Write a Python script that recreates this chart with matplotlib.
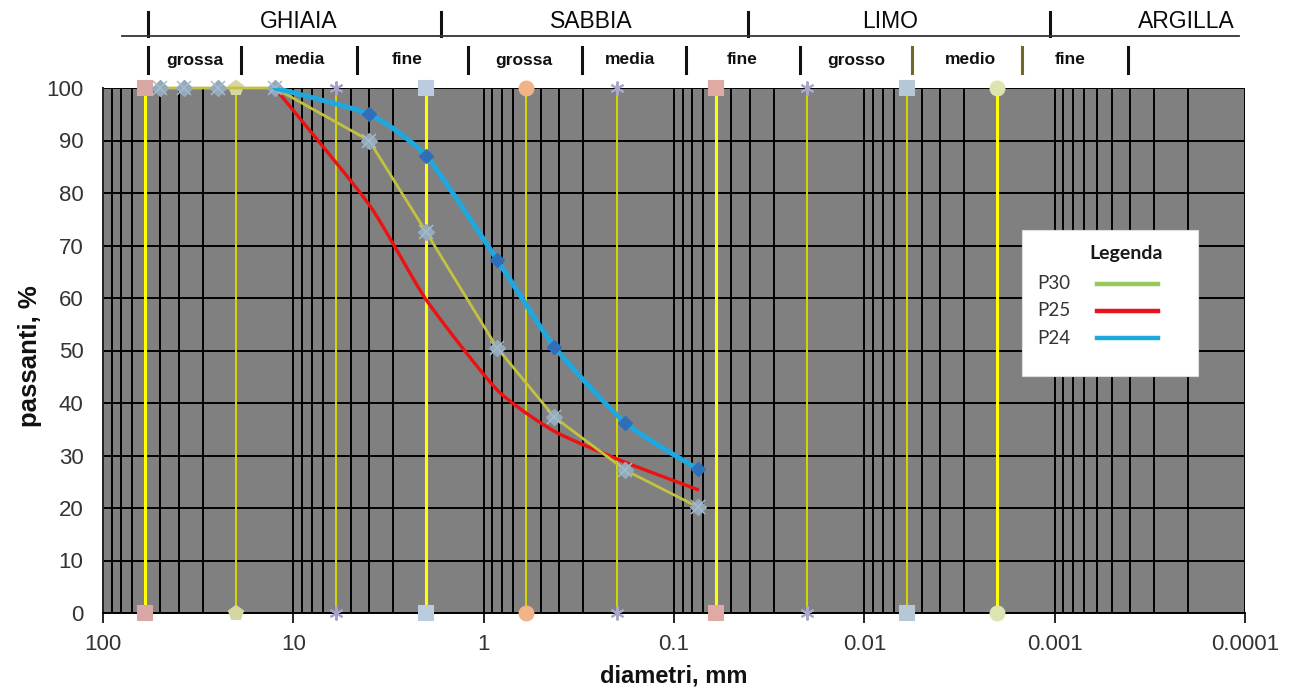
import numpy as np
import matplotlib
matplotlib.use("Agg")
import matplotlib.pyplot as plt
from matplotlib.lines import Line2D
from matplotlib.patches import Rectangle
from matplotlib.ticker import LogLocator, NullFormatter

plt.rcParams['font.family'] = ['Liberation Sans', 'DejaVu Sans']

# ---------------- data ----------------
p30_d = [50, 37.5, 25, 12.5, 4, 2, 0.85, 0.425, 0.18, 0.075]
p30_p = [100, 100, 100, 100, 90, 72.5, 50.5, 37.3, 27.2, 20.2]
p25_d = [12.5, 4, 2, 0.85, 0.425, 0.18, 0.075]
p25_p = [100, 77.8, 59.6, 42.5, 34.6, 28.7, 23.5]
p24_d = [12.5, 4, 2, 0.85, 0.425, 0.18, 0.075]
p24_p = [100, 95, 87, 67.3, 50.7, 36.2, 27.4]

# classification boundaries (mm)
bounds = [60, 20, 6, 2, 0.6, 0.2, 0.06, 0.02, 0.006, 0.002]
x_ticks = [100, 10, 1, 0.1, 0.01, 0.001, 0.0001]
x_ticklabels = ['100', '10', '1', '0.1', '0.01', '0.001', '0.0001']
y_ticks = [0, 10, 20, 30, 40, 50, 60, 70, 80, 90, 100]

top_labels = ['GHIAIA', 'SABBIA', 'LIMO', 'ARGILLA']
sub_labels = ['grossa', 'media', 'fine', 'grossa', 'media', 'fine',
              'grosso', 'medio', 'fine']
legend_names = ['P30', 'P25', 'P24']

# ---------------- helpers ----------------
W, H = 1304, 691


def fx(px):
    return px / W


def fy(py):
    return 1 - py / H


def smooth(xs, ys, n=24, k=0.6):
    """Hermite curve through the data points (in log-x space)."""
    pts = np.column_stack([np.log10(xs), ys])
    P = np.vstack([pts[0], pts, pts[-1]])
    out = []
    t = np.linspace(0, 1, n, endpoint=False)[:, None]
    h00 = 2 * t ** 3 - 3 * t ** 2 + 1
    h10 = t ** 3 - 2 * t ** 2 + t
    h01 = -2 * t ** 3 + 3 * t ** 2
    h11 = t ** 3 - t ** 2
    for i in range(1, len(P) - 2):
        p0, p1, p2, p3 = P[i - 1], P[i], P[i + 1], P[i + 2]
        m1 = k * (p2 - p0) / 2
        m2 = k * (p3 - p1) / 2
        out.append(h00 * p1 + h10 * m1 + h01 * p2 + h11 * m2)
    out.append(pts[-1][None])
    c = np.vstack(out)
    return 10 ** c[:, 0], c[:, 1]


# ---------------- figure ----------------
fig = plt.figure(figsize=(W / 100, H / 100), dpi=100)
fig.patch.set_facecolor('white')
ax = fig.add_axes([fx(103), 78 / H, 1142 / W, 525 / H])
ax.set_xscale('log')
ax.set_xlim(100, 0.0001)
ax.set_ylim(0, 100)
ax.set_facecolor('#808080')

ax.xaxis.set_minor_locator(LogLocator(base=10, subs=np.arange(2, 10)))
ax.xaxis.set_minor_formatter(NullFormatter())
ax.set_xticks(x_ticks)
ax.set_xticklabels(x_ticklabels)
ax.set_yticks(y_ticks)
ax.tick_params(axis='x', which='major', length=7, width=1.2, color='black',
               direction='out', labelsize=16, labelcolor='#333333', pad=8)
ax.tick_params(axis='x', which='minor', length=0)
ax.tick_params(axis='y', length=0, labelsize=16, labelcolor='#333333', pad=14)

ax.grid(True, axis='x', which='both', color='black', lw=1.4, zorder=1)
ax.grid(True, axis='y', which='major', color='black', lw=1.4, zorder=1)
ax.set_axisbelow(True)
for s in ['top', 'right']:
    ax.spines[s].set_visible(False)
ax.spines['left'].set_color('#222222')
ax.spines['bottom'].set_color('black')
ax.spines['left'].set_linewidth(1.4)
ax.spines['bottom'].set_linewidth(1.4)

# boundary lines with end markers
bstyle = [
    (2.2, 's', '#D8A8A4'),
    (1.2, 'p', '#D6D6A2'),
    (1.2, (6, 2, 0), '#A8A2C8'),
    (2.2, 's', '#BCCCE0'),
    (1.2, 'o', '#F0B488'),
    (1.2, (6, 2, 0), '#A8A8C8'),
    (2.2, 's', '#E0AAA4'),
    (1.2, (6, 2, 0), '#A8A8C8'),
    (1.2, 's', '#B4C8D8'),
    (2.2, 'o', '#DDE4B0'),
]
for b, (lw, mk, mc) in zip(bounds, bstyle):
    ax.plot([b, b], [0, 100], color='#FFFF00', lw=lw, zorder=3,
            marker=mk, markersize=10, markerfacecolor=mc,
            markeredgecolor=mc, markeredgewidth=1.5, clip_on=False)

# data series
xr, yr = smooth(p25_d, p25_p)
ax.plot(xr, yr, color='#EE1111', lw=2.4, zorder=4, solid_capstyle='round')

ax.plot(p30_d, p30_p, color='#C2C240', lw=2.0, zorder=5,
        marker='D', markersize=8, markerfacecolor='#93ABBA',
        markeredgecolor='#93ABBA', clip_on=False)
ax.plot(p30_d, p30_p, lw=0, zorder=5, marker='x', markersize=10,
        markeredgecolor='#A6BCCC', markeredgewidth=1.1, clip_on=False)

xb, yb = smooth(p24_d, p24_p)
ax.plot(xb, yb, color='#1EA8DF', lw=3.6, zorder=6, solid_capstyle='round')
ax.plot(p24_d[1:], p24_p[1:], lw=0, zorder=6, marker='D', markersize=7,
        markerfacecolor='#2F6EB8', markeredgecolor='#2F6EB8')

# axis labels
ax.set_xlabel('diametri, mm', fontsize=17, fontweight='bold', color='#111111')
ax.xaxis.set_label_coords(0.5, -(676 - 613) / 525)
ax.xaxis.label.set_va('center')
ax.set_ylabel('passanti, %', fontsize=18.5, fontweight='bold', color='#111111')
ax.yaxis.set_label_coords(-(103 - 30) / 1142, 0.49)
ax.yaxis.label.set_va('center')

# header (classification)
top_x = [299, 591, 890, 1186]
for t, x in zip(top_labels, top_x):
    fig.text(fx(x), fy(22), t, ha='center', va='center', fontsize=16.5,
             color='#0a0a0a')
for x in [148, 441, 748, 1050]:
    fig.add_artist(Line2D([fx(x), fx(x)], [fy(12), fy(36)], color='#111111',
                          lw=2.2, transform=fig.transFigure))
fig.add_artist(Line2D([fx(122), fx(1239)], [fy(36), fy(36)], color='#333333',
                      lw=1.3, transform=fig.transFigure))

sub_x = [195, 300, 407, 524, 630, 742, 856, 970, 1070]
for t, x in zip(sub_labels, sub_x):
    fig.text(fx(x), fy(60), t, ha='center', va='center', fontsize=12.5,
             fontweight='bold', color='#111111')
sub_bars = [148, 241, 357, 468, 582, 686, 800, 912, 1022, 1128]
for x in sub_bars:
    c = '#6E6A22' if x in (912, 1022) else '#111111'
    fig.add_artist(Line2D([fx(x), fx(x)], [fy(47), fy(73)], color=c,
                          lw=2.2, transform=fig.transFigure))

# legend box
fig.add_artist(Rectangle((fx(1022), fy(376)), (1198 - 1022) / W,
                         (376 - 230) / H, transform=fig.transFigure,
                         facecolor='white', edgecolor='#DDDDDD', lw=0.8,
                         zorder=10))
fig.text(fx(1126), fy(254), 'Legenda', ha='center', va='center',
         fontsize=14, fontweight='bold', family=['Lato', 'DejaVu Sans'],
         color='#1a1a1a', zorder=11)
leg_colors = ['#96C95A', '#E3141C', '#1FA9DF']
leg_y = [284, 311, 338]
for name, c, y in zip(legend_names, leg_colors, leg_y):
    fig.text(fx(1037), fy(y), name, ha='left', va='center', fontsize=13.5,
             family=['Lato', 'DejaVu Sans'], color='#333333', zorder=11)
    fig.add_artist(Line2D([fx(1097), fx(1158)], [fy(y), fy(y)], color=c,
                          lw=3.2, transform=fig.transFigure, zorder=11))

fig.savefig('out.png', dpi=100, facecolor='white')
